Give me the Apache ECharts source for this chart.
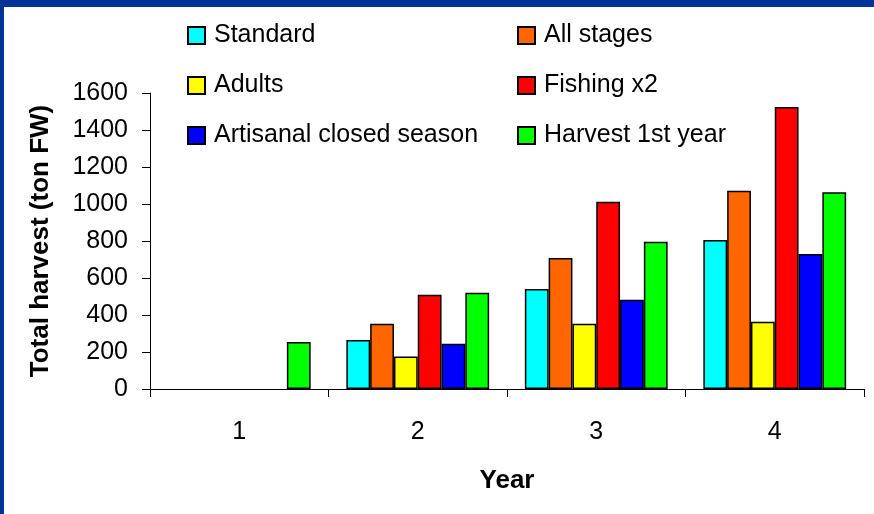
<!DOCTYPE html>
<html>
<head>
<meta charset="utf-8">
<script src="https://cdn.jsdelivr.net/npm/echarts@6/dist/echarts.min.js"></script>
<style>
  html, body { margin: 0; padding: 0; background: #fff; }
  #chart { width: 874px; height: 514px; }
</style>
</head>
<body>
<div id="chart"></div>
<script>
// Harvest per scenario, years 1-4 (ton fresh weight)
const years = ['1', '2', '3', '4'];
const seriesNames = ['Standard', 'All stages', 'Adults', 'Fishing x2', 'Artisanal closed season', 'Harvest 1st year'];
const standard = [null, 265, 540, 805];
const allStages = [null, 353, 708, 1072];
const adults = [null, 176, 353, 364];
const fishingX2 = [null, 510, 1012, 1524];
const artisanal = [null, 245, 483, 730];
const harvestFirstYear = [254, 520, 796, 1063];
const yTicks = { min: 0, max: 1600, interval: 200 };

const colors = ['#00FFFF', '#FF6600', '#FFFF00', '#FF0000', '#0000FF', '#00FF00'];
const values = [standard, allStages, adults, fishingX2, artisanal, harvestFirstYear];
const FONT = "'Liberation Sans', Arial, sans-serif";

const chart = echarts.init(document.getElementById('chart'), null, { renderer: 'canvas' });

const series = seriesNames.map((name, i) => ({
  name: name,
  type: 'bar',
  data: values[i],
  barGap: '0%',
  barCategoryGap: '20%',
  itemStyle: { color: colors[i], borderColor: '#000', borderWidth: 1.5 },
  emphasis: { disabled: true }
}));

const legendCommon = {
  orient: 'vertical',
  top: 18,
  itemWidth: 17,
  itemHeight: 17,
  itemGap: 25,
  icon: 'rect',
  textStyle: { fontFamily: FONT, fontSize: 25, color: '#000', padding: [0, 0, 0, 4] },
  selectedMode: false
};

chart.setOption({
  animation: false,
  backgroundColor: '#fff',
  graphic: [
    { type: 'rect', left: 0, top: 0, shape: { width: 874, height: 7 }, style: { fill: '#003399' }, z: 100 },
    { type: 'rect', left: 0, top: 0, shape: { width: 4, height: 514 }, style: { fill: '#003399' }, z: 100 }
  ],
  legend: [
    Object.assign({}, legendCommon, { left: 182, data: [seriesNames[0], seriesNames[2], seriesNames[4]] }),
    Object.assign({}, legendCommon, { left: 512, data: [seriesNames[1], seriesNames[3], seriesNames[5]] })
  ],
  grid: { left: 150, right: 10, top: 93, bottom: 125, containLabel: false },
  xAxis: {
    type: 'category',
    data: years,
    name: 'Year',
    nameLocation: 'middle',
    nameGap: 79,
    nameTextStyle: { fontFamily: FONT, fontSize: 26, fontWeight: 'bold', color: '#000' },
    axisLine: { lineStyle: { color: '#000', width: 1 } },
    axisTick: { show: true, length: 8, lineStyle: { color: '#000' } },
    axisLabel: { fontFamily: FONT, fontSize: 25, color: '#000', margin: 31 }
  },
  yAxis: {
    type: 'value',
    min: yTicks.min,
    max: yTicks.max,
    interval: yTicks.interval,
    name: 'Total harvest (ton FW)',
    nameLocation: 'middle',
    nameGap: 96,
    nameTextStyle: { fontFamily: FONT, fontSize: 26, fontWeight: 'bold', color: '#000' },
    axisLine: { show: true, lineStyle: { color: '#000', width: 1 } },
    axisTick: { show: true, length: 8, lineStyle: { color: '#000' } },
    splitLine: { show: false },
    axisLabel: { fontFamily: FONT, fontSize: 25, color: '#000', margin: 22, formatter: v => String(v) }
  },
  series: series
});
</script>
</body>
</html>
